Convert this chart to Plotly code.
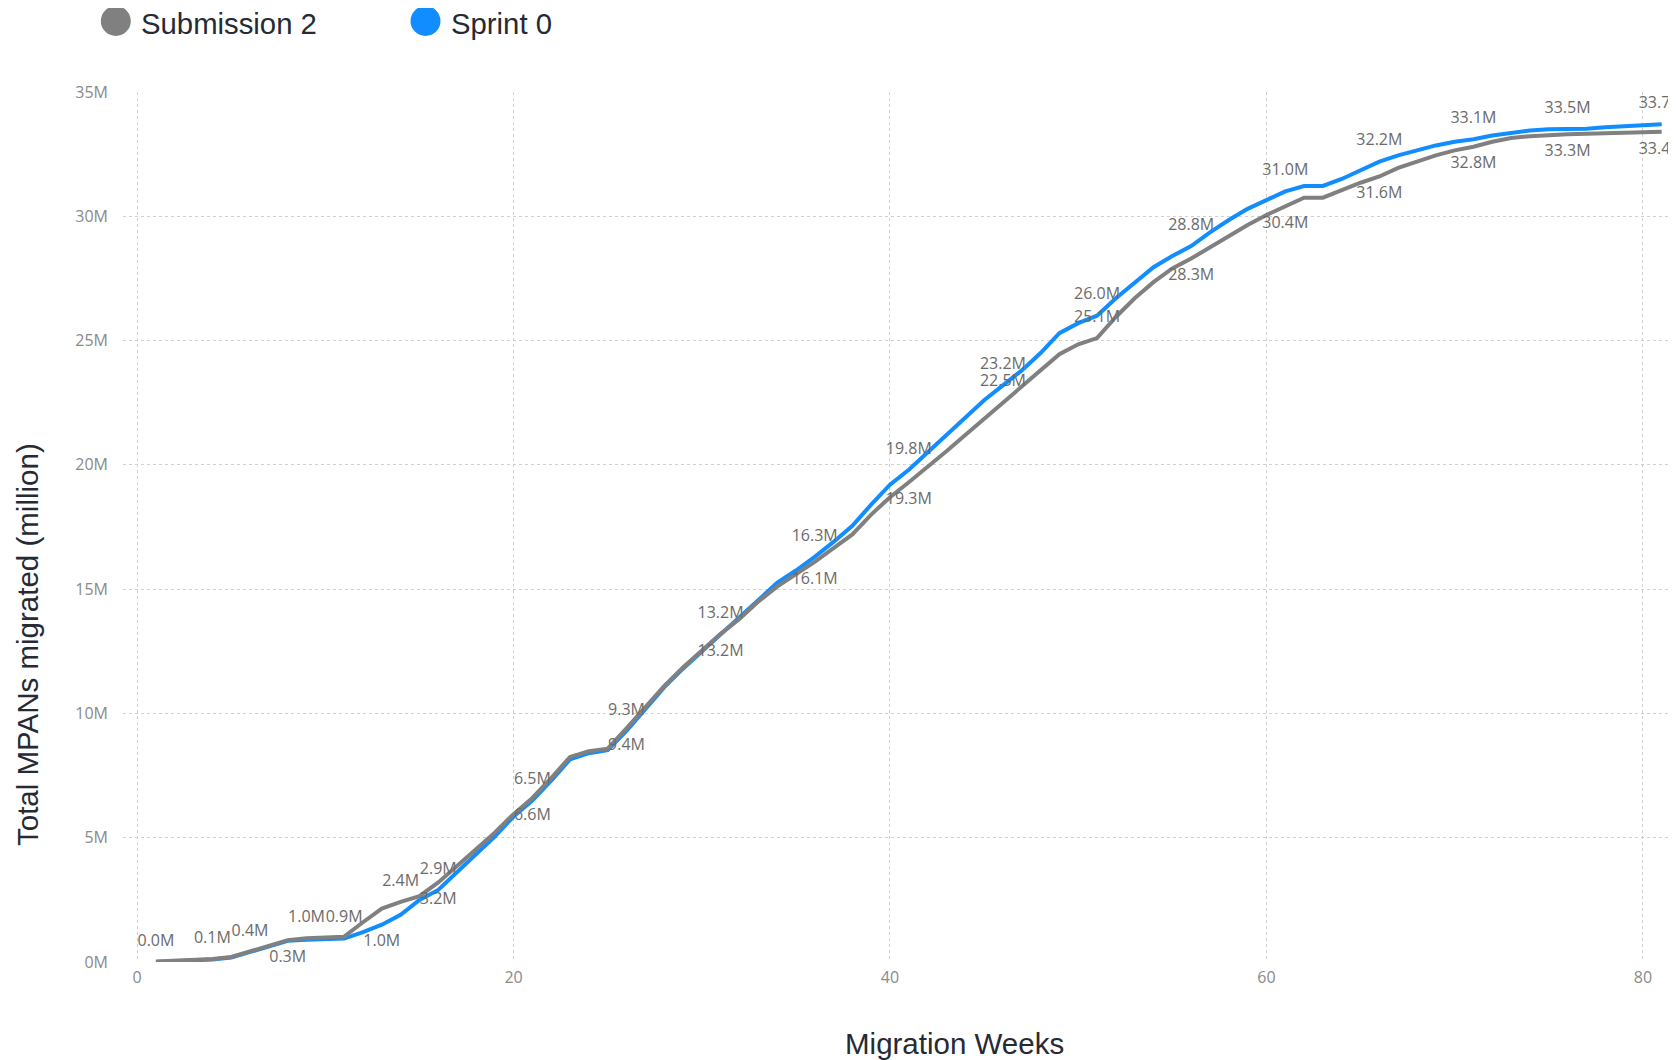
import plotly.graph_objects as go

# ---------------- data ----------------
weeks = list(range(1, 82))

submission_2 = [
    0.02, 0.05, 0.08, 0.12, 0.20, 0.42, 0.65, 0.88, 0.96, 1.00,   # 1-10
    1.02, 1.60, 2.15, 2.42, 2.65, 3.20, 3.85, 4.50, 5.20, 5.95,   # 11-20
    6.60, 7.40, 8.25, 8.48, 8.58, 9.40, 10.25, 11.10, 11.85, 12.55,  # 21-30
    13.20, 13.80, 14.50, 15.10, 15.60, 16.10, 16.65, 17.20, 18.00, 18.70,  # 31-40
    19.30, 19.90, 20.55, 21.20, 21.85, 22.50, 23.15, 23.80, 24.45, 24.85,  # 41-50
    25.10, 25.95, 26.70, 27.35, 27.90, 28.30, 28.75, 29.20, 29.65, 30.05,  # 51-60
    30.40, 30.75, 30.75, 31.05, 31.35, 31.60, 31.95, 32.20, 32.45, 32.65,  # 61-70
    32.80, 33.00, 33.15, 33.22, 33.27, 33.30, 33.32, 33.34, 33.36, 33.38,  # 71-80
    33.40,
]

sprint_0 = [
    0.00, 0.02, 0.05, 0.10, 0.18, 0.40, 0.62, 0.85, 0.90, 0.92,   # 1-10
    0.94, 1.20, 1.50, 1.90, 2.50, 2.90, 3.60, 4.30, 5.05, 5.85,   # 11-20
    6.50, 7.30, 8.15, 8.40, 8.52, 9.30, 10.20, 11.05, 11.80, 12.50,  # 21-30
    13.20, 13.85, 14.60, 15.25, 15.75, 16.30, 16.90, 17.55, 18.40, 19.20,  # 31-40
    19.80, 20.50, 21.20, 21.90, 22.60, 23.20, 23.80, 24.50, 25.30, 25.70,  # 41-50
    26.00, 26.70, 27.35, 27.95, 28.40, 28.80, 29.35, 29.85, 30.30, 30.65,  # 51-60
    31.00, 31.22, 31.22, 31.50, 31.85, 32.20, 32.45, 32.65, 32.85, 33.00,  # 61-70
    33.10, 33.25, 33.35, 33.45, 33.50, 33.50, 33.52, 33.58, 33.63, 33.67,  # 71-80
    33.70,
]

# data labels as shown on the chart (week, text, above/below)
s0_label_weeks = [1, 4, 6, 11, 16, 21, 26, 31, 36, 41, 46, 51, 56, 61, 66, 71, 76, 81, 13]
s0_label_text = ["0.0M", "0.1M", "0.4M", "0.9M", "2.9M", "6.5M", "9.3M", "13.2M", "16.3M",
                 "19.8M", "23.2M", "26.0M", "28.8M", "31.0M", "32.2M", "33.1M", "33.5M",
                 "33.7M", "1.0M"]
s0_label_pos = ["top"] * 18 + ["bottom"]

s2_label_weeks = [9, 14, 8, 16, 21, 26, 31, 36, 41, 46, 51, 56, 61, 66, 71, 76, 81]
s2_label_text = ["1.0M", "2.4M", "0.3M", "3.2M", "6.6M", "9.4M", "13.2M", "16.1M", "19.3M",
                 "22.5M", "25.1M", "28.3M", "30.4M", "31.6M", "32.8M", "33.3M", "33.4M"]
s2_label_pos = ["top", "top", "bottom", "bottom", "bottom", "bottom", "bottom", "bottom",
                "bottom", "top", "top", "bottom", "bottom", "bottom", "bottom", "bottom",
                "bottom"]

x_ticks = [0, 20, 40, 60, 80]
y_ticks = [0, 5, 10, 15, 20, 25, 30, 35]
y_tick_text = ["0M", "5M", "10M", "15M", "20M", "25M", "30M", "35M"]

series_names = ["Submission 2", "Sprint 0"]

# ---------------- styles ----------------
GREY = "#808080"
BLUE = "#118DFF"
LABEL_COLOR = "#6b6b6b"
TICK_COLOR = "#8a8a8a"
TITLE_COLOR = "#252a34"
OFF = 8                       # page body margin
PAGE_W, PAGE_H = 1676, 1060
W, H = PAGE_W - OFF, PAGE_H - OFF
PL, PT, PB = 123, 92, 962     # plot edges in page pixels
plot_w = PAGE_W - PL
plot_h = PB - PT


def px(x):
    return (x - PL) / plot_w


def py(y):
    return (PB - y) / plot_h


fig = go.Figure()

# Sprint 0 line (drawn first, grey sits on top)
fig.add_trace(go.Scatter(
    x=weeks, y=sprint_0, mode="lines", name=series_names[1],
    line=dict(color=BLUE, width=4), showlegend=False, hoverinfo="x+y"))
fig.add_trace(go.Scatter(
    x=weeks, y=submission_2, mode="lines", name=series_names[0],
    line=dict(color=GREY, width=4), showlegend=False, hoverinfo="x+y"))

# data labels
for vals, lw, lt, lp in [(sprint_0, s0_label_weeks, s0_label_text, s0_label_pos),
                         (submission_2, s2_label_weeks, s2_label_text, s2_label_pos)]:
    for pos, msize in [("top", 18), ("bottom", 14)]:
        idx = [i for i, p in enumerate(lp) if p == pos]
        if not idx:
            continue
        fig.add_trace(go.Scatter(
            x=[lw[i] for i in idx],
            y=[vals[weeks.index(lw[i])] for i in idx],
            text=[lt[i] for i in idx],
            mode="markers+text", textposition=pos + " center",
            marker=dict(size=msize, opacity=0),
            textfont=dict(family="Open Sans", size=16, color=LABEL_COLOR),
            cliponaxis=False, showlegend=False, hoverinfo="skip"))

fig.update_layout(
    width=W, height=H,
    margin=dict(l=PL - OFF, r=0, t=PT - OFF, b=H - (PB - OFF), autoexpand=False),
    paper_bgcolor="white", plot_bgcolor="white",
    showlegend=False,
    xaxis=dict(
        range=[-0.75, 81.76], tickmode="array", tickvals=x_ticks,
        showgrid=True, gridcolor="#d0d0d0", griddash="dot", gridwidth=1,
        zeroline=False, showline=False, ticks="",
        tickfont=dict(family="Open Sans", size=16, color=TICK_COLOR),
        ticklabelstandoff=4,
    ),
    yaxis=dict(
        range=[0, 35], tickmode="array", tickvals=y_ticks, ticktext=y_tick_text,
        showgrid=True, gridcolor="#d0d0d0", griddash="dot", gridwidth=1,
        zeroline=False, showline=False, ticks="",
        tickfont=dict(family="Open Sans", size=16, color=TICK_COLOR),
        ticklabelstandoff=14,
    ),
)

# axis titles
fig.add_annotation(
    text="Migration Weeks", xref="paper", yref="paper",
    x=px(954), y=py(1043),
    showarrow=False, xanchor="center", yanchor="middle",
    font=dict(family="Liberation Sans, Arial", size=29.5, color=TITLE_COLOR))
fig.add_annotation(
    text="Total MPANs migrated (million)", xref="paper", yref="paper",
    x=px(27), y=py(645), textangle=-90,
    showarrow=False, xanchor="center", yanchor="middle",
    font=dict(family="Liberation Sans, Arial", size=29.5, color=TITLE_COLOR))

# legend (circles + text)
legend_items = [(series_names[0], GREY, 115.8, 138.5), (series_names[1], BLUE, 425.5, 449)]
r = 15
for name, col, cx, tx in legend_items:
    fig.add_shape(
        type="circle", xref="paper", yref="paper",
        x0=px(cx - r), x1=px(cx + r),
        y0=py(21 + r), y1=py(21 - r),
        fillcolor=col, line=dict(width=0), layer="above")
    fig.add_annotation(
        text=name, xref="paper", yref="paper",
        x=px(tx), y=py(23.5),
        showarrow=False, xanchor="left", yanchor="middle",
        font=dict(family="Liberation Sans, Arial", size=29.3, color=TITLE_COLOR))

fig.write_html("out.html")
